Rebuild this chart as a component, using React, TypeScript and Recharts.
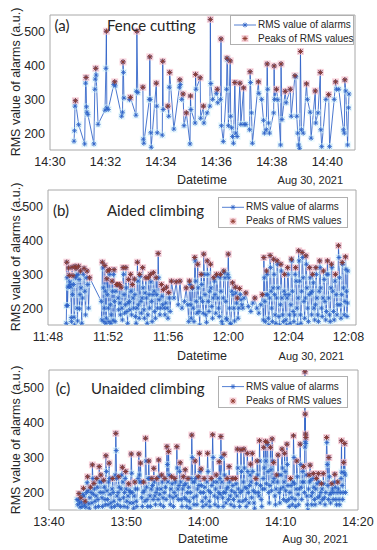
import React from 'react'
import { ComposedChart, Line, XAxis, YAxis } from 'recharts'

// seconds after 14:30:00, (a) fence cutting
const timeA = [
  52, 53, 54, 55, 62, 75, 77, 78, 79, 80,
  82, 95, 97, 98, 99, 100, 104, 119, 121, 122,
  123, 126, 138, 140, 141, 155, 157, 158, 159, 160,
  172, 174, 186, 187, 188, 190, 201, 202, 203, 215,
  216, 217, 218, 219, 230, 231, 232, 243, 244, 245,
  255, 257, 258, 259, 268, 280, 281, 282, 285, 288,
  290, 295, 303, 304, 305, 314, 315, 316, 325, 326,
  332, 333, 340, 346, 347, 348, 352, 360, 362, 363,
  369, 370, 371, 375, 382, 383, 384, 386, 390, 391,
  393, 395, 397, 400, 402, 405, 411, 413, 419, 420,
  424, 432, 433, 434, 436, 438, 451, 452, 458, 462,
  464, 468, 470, 471, 473, 475, 484, 485, 486, 490,
  493, 499, 500, 502, 509, 511, 520, 522, 530, 532,
  534, 536, 538, 540, 542, 544, 548, 555, 557, 563,
  565, 574, 575, 580, 585, 586, 588, 597, 603, 605,
  615, 618, 620, 625, 635, 637, 638, 640, 644, 646,
  647,
]
const rmsA = [
  176, 207, 280, 296, 225, 168, 348, 365, 278, 262,
  255, 168, 330, 360, 392, 372, 226, 268, 392, 502,
  275, 270, 344, 352, 340, 250, 262, 411, 380, 304,
  299, 306, 253, 324, 502, 320, 336, 182, 170, 300,
  426, 300, 201, 158, 348, 280, 201, 194, 413, 270,
  280, 250, 336, 380, 212, 336, 358, 344, 300, 316,
  222, 260, 168, 310, 270, 230, 374, 330, 364, 244,
  280, 230, 260, 280, 537, 347, 300, 318, 330, 290,
  300, 479, 222, 175, 330, 422, 418, 222, 414, 250,
  216, 190, 170, 350, 200, 190, 348, 226, 334, 226,
  226, 210, 382, 350, 260, 170, 352, 318, 300, 238,
  200, 210, 405, 330, 230, 200, 260, 399, 300, 330,
  299, 165, 405, 240, 324, 290, 330, 250, 370, 367,
  250, 200, 165, 155, 442, 210, 200, 346, 300, 262,
  185, 325, 230, 260, 380, 210, 160, 300, 314, 160,
  300, 352, 330, 330, 210, 200, 358, 325, 165, 275,
  316,
]

// seconds after 11:48:00, (b) aided climbing
const timeB = [
  73, 74, 75, 76, 78, 80, 82, 83, 85, 87,
  89, 91, 93, 94, 96, 98, 100, 102, 104, 106,
  108, 110, 112, 114, 116, 118, 120, 122, 124, 126,
  128, 130, 132, 135, 138, 141, 144, 147, 150, 153,
  156, 159, 162, 166, 213, 215, 217, 219, 221, 223,
  225, 227, 229, 231, 233, 235, 237, 239, 241, 243,
  245, 247, 249, 251, 253, 256, 258, 260, 262, 264,
  266, 268, 271, 274, 276, 278, 280, 282, 285, 287,
  289, 292, 295, 297, 300, 302, 304, 306, 309, 311,
  313, 315, 318, 320, 322, 325, 327, 330, 332, 334,
  337, 340, 342, 345, 347, 349, 352, 355, 357, 359,
  361, 364, 366, 368, 371, 373, 376, 378, 380, 383,
  385, 388, 391, 393, 396, 399, 401, 404, 406, 409,
  411, 414, 416, 419, 421, 424, 426, 429, 432, 434,
  437, 440, 442, 444, 447, 450, 453, 455, 458, 461,
  464, 467, 470, 473, 476, 479, 482, 485, 488, 493,
  503, 512, 520, 527, 535, 545, 552, 558, 562, 565,
  567, 570, 572, 575, 577, 580, 583, 586, 588, 590,
  592, 595, 598, 600, 603, 606, 609, 612, 614, 617,
  620, 622, 624, 627, 630, 633, 636, 638, 640, 643,
  646, 649, 651, 654, 657, 660, 662, 665, 667, 670,
  673, 675, 678, 681, 684, 687, 689, 691, 694, 697,
  700, 702, 704, 707, 710, 712, 715, 718, 720, 722,
  725, 728, 731, 734, 737, 739, 742, 745, 748, 750,
  753, 756, 759, 762, 765, 768, 771, 774, 778, 783,
  790, 800, 810, 818, 826, 834, 842, 850, 856, 860,
  862, 864, 866, 868, 871, 873, 875, 877, 880, 882,
  885, 887, 889, 891, 893, 896, 899, 901, 903, 905,
  907, 910, 913, 915, 917, 919, 922, 925, 928, 930,
  932, 934, 937, 940, 943, 945, 947, 950, 953, 955,
  957, 959, 962, 964, 967, 970, 972, 974, 976, 979,
  982, 985, 987, 989, 991, 994, 997, 999, 1001, 1003,
  1005, 1008, 1010, 1013, 1015, 1017, 1019, 1022, 1025, 1028,
  1030, 1032, 1034, 1037, 1040, 1043, 1045, 1047, 1050, 1053,
  1055, 1057, 1060, 1062, 1065, 1068, 1070, 1072, 1074, 1077,
  1080, 1083, 1085, 1087, 1089, 1092, 1095, 1098, 1100, 1103,
  1106, 1109, 1112, 1114, 1116, 1118, 1121, 1124, 1127, 1130,
  1132, 1134, 1137, 1140, 1143, 1146, 1148, 1151, 1154, 1157,
  1160, 1162, 1164, 1167, 1170, 1173, 1175, 1177, 1180, 1183,
  1186, 1188, 1190, 1192, 1194, 1196, 1197,
]
const rmsB = [
  155, 207, 336, 290, 208, 262, 319, 265, 297, 278,
  270, 262, 172, 160, 321, 240, 296, 270, 173, 150,
  324, 290, 318, 296, 200, 162, 300, 324, 285, 198,
  240, 310, 260, 155, 230, 300, 318, 250, 180, 290,
  310, 270, 200, 290, 220, 165, 336, 319, 260, 160,
  200, 326, 250, 155, 170, 287, 240, 310, 200, 160,
  314, 300, 210, 155, 180, 280, 250, 164, 300, 314,
  220, 160, 250, 270, 268, 270, 230, 195, 270, 215,
  180, 262, 200, 165, 320, 300, 240, 185, 210, 320,
  260, 190, 155, 215, 285, 220, 195, 300, 250, 180,
  270, 230, 200, 286, 240, 175, 155, 200, 336, 280,
  210, 170, 300, 294, 220, 185, 230, 320, 260, 195,
  170, 245, 290, 230, 155, 180, 290, 240, 200, 300,
  278, 220, 160, 240, 305, 250, 190, 170, 290, 240,
  200, 362, 290, 225, 180, 200, 270, 235, 210, 255,
  200, 180, 215, 262, 200, 170, 246, 230, 190, 280,
  230, 278, 210, 280, 200, 220, 260, 210, 160, 280,
  270, 210, 170, 262, 258, 200, 160, 350, 340, 280,
  220, 185, 330, 260, 190, 150, 230, 300, 270, 220,
  185, 360, 300, 240, 180, 158, 340, 300, 220, 190,
  250, 330, 260, 205, 170, 230, 290, 280, 240, 185,
  300, 295, 230, 200, 175, 290, 300, 250, 160, 150,
  230, 310, 305, 290, 220, 170, 165, 300, 360, 290,
  200, 155, 150, 250, 275, 240, 200, 162, 262, 245,
  215, 230, 170, 200, 258, 240, 225, 210, 200, 230,
  245, 205, 190, 215, 230, 200, 185, 210, 240, 165,
  350, 290, 220, 160, 240, 310, 300, 240, 170, 150,
  230, 356, 320, 250, 200, 160, 260, 345, 300, 240,
  180, 155, 230, 340, 330, 260, 175, 150, 210, 330,
  310, 230, 180, 160, 250, 300, 240, 165, 150, 230,
  320, 300, 240, 180, 155, 210, 345, 340, 250, 190,
  160, 180, 300, 320, 280, 200, 150, 230, 370, 340,
  280, 180, 155, 250, 365, 350, 290, 220, 170, 230,
  355, 330, 260, 200, 160, 240, 320, 290, 245, 180,
  250, 300, 275, 200, 165, 210, 320, 300, 230, 180,
  160, 250, 340, 320, 260, 200, 175, 230, 310, 285,
  220, 165, 190, 300, 340, 300, 230, 180, 160, 260,
  330, 320, 250, 190, 165, 280, 300, 240, 180, 210,
  385, 350, 290, 210, 170, 240, 335, 330, 260, 180,
  220, 352, 315, 250, 175, 215, 310,
]

// seconds after 13:40:00, (c) unaided climbing
const timeC = [
  218, 223, 228, 233, 237, 242, 247, 252, 258, 263,
  268, 272, 276, 281, 286, 291, 296, 300, 304, 308,
  313, 318, 323, 328, 333, 337, 341, 345, 349, 353,
  357, 361, 366, 371, 375, 380, 385, 390, 394, 398,
  403, 407, 411, 415, 420, 425, 430, 434, 438, 442,
  446, 450, 455, 459, 463, 467, 471, 475, 480, 485,
  490, 495, 499, 504, 509, 514, 519, 522, 525, 529,
  533, 537, 542, 546, 550, 555, 560, 565, 570, 574,
  578, 583, 587, 592, 596, 600, 604, 609, 614, 619,
  624, 629, 634, 639, 643, 647, 652, 657, 662, 667,
  672, 677, 682, 687, 692, 698, 702, 706, 711, 715,
  720, 725, 730, 735, 740, 745, 750, 754, 758, 762,
  766, 771, 775, 779, 784, 789, 794, 799, 804, 809,
  814, 818, 822, 827, 832, 837, 842, 847, 852, 856,
  860, 865, 870, 875, 880, 885, 890, 895, 900, 905,
  910, 916, 920, 924, 929, 933, 937, 942, 947, 952,
  957, 962, 967, 972, 977, 982, 987, 993, 997, 1001,
  1005, 1010, 1015, 1019, 1023, 1028, 1033, 1038, 1043, 1048,
  1053, 1058, 1062, 1066, 1070, 1075, 1080, 1085, 1090, 1095,
  1100, 1104, 1109, 1113, 1117, 1121, 1126, 1131, 1135, 1139,
  1144, 1149, 1154, 1159, 1164, 1168, 1172, 1176, 1181, 1185,
  1190, 1195, 1200, 1205, 1210, 1215, 1220, 1226, 1232, 1236,
  1240, 1245, 1250, 1255, 1260, 1265, 1271, 1275, 1279, 1284,
  1289, 1294, 1299, 1304, 1309, 1314, 1318, 1322, 1326, 1330,
  1335, 1339, 1343, 1348, 1353, 1356, 1360, 1364, 1369, 1374,
  1379, 1384, 1389, 1394, 1399, 1403, 1408, 1413, 1418, 1423,
  1428, 1433, 1438, 1443, 1448, 1453, 1458, 1463, 1467, 1471,
  1476, 1481, 1486, 1491, 1495, 1500, 1505, 1510, 1514, 1518,
  1522, 1527, 1532, 1536, 1540, 1544, 1548, 1553, 1558, 1562,
  1566, 1570, 1574, 1579, 1583, 1587, 1592, 1597, 1602, 1607,
  1612, 1617, 1621, 1626, 1630, 1635, 1639, 1643, 1648, 1653,
  1658, 1663, 1668, 1672, 1676, 1681, 1685, 1689, 1694, 1698,
  1702, 1706, 1711, 1715, 1720, 1724, 1729, 1733, 1737, 1741,
  1745, 1749, 1754, 1759, 1764, 1769, 1774, 1779, 1783, 1788,
  1793, 1798, 1803, 1810, 1814, 1818, 1822, 1826, 1830, 1834,
  1838, 1843, 1848, 1852, 1856, 1861, 1866, 1871, 1876, 1881,
  1886, 1890, 1895, 1899, 1903, 1907, 1911, 1916, 1920, 1925,
  1929, 1934, 1939, 1944, 1951, 1955, 1959, 1963, 1967, 1971,
  1976, 1980, 1984, 1988, 1989, 1990, 1991, 1993, 1994, 1995,
  1998, 2002, 2006, 2011, 2016, 2020, 2024, 2028, 2032, 2036,
  2041, 2046, 2050, 2053, 2057, 2062, 2067, 2072, 2077, 2082,
  2088, 2092, 2096, 2101, 2106, 2111, 2116, 2121, 2125, 2130,
  2134, 2139, 2144, 2150, 2156, 2158, 2162, 2166, 2170, 2174,
  2178, 2182, 2187, 2192, 2197, 2202, 2207, 2212, 2216, 2220,
  2224, 2228, 2233, 2238, 2243, 2248, 2253, 2258, 2263, 2268,
  2272, 2274, 2277, 2281, 2285, 2289, 2293, 2297, 2300, 2303,
]
const rmsC = [
  180, 165, 178, 197, 170, 158, 185, 172, 160, 195,
  212, 190, 165, 175, 158, 200, 228, 245, 205, 168,
  155, 185, 215, 200, 170, 279, 240, 195, 226, 210,
  175, 158, 190, 240, 215, 180, 160, 274, 230, 200,
  250, 230, 185, 160, 200, 235, 215, 180, 165, 305,
  260, 205, 180, 165, 230, 284, 240, 195, 170, 158,
  210, 240, 200, 175, 160, 250, 369, 320, 240, 190,
  165, 200, 245, 215, 180, 160, 210, 250, 272, 230,
  185, 160, 200, 240, 260, 210, 175, 158, 190, 225,
  205, 170, 200, 310, 255, 200, 170, 155, 190, 230,
  210, 175, 160, 210, 240, 310, 250, 230, 284, 230,
  185, 160, 200, 230, 205, 175, 355, 290, 215, 180,
  160, 240, 290, 240, 190, 160, 210, 240, 220, 180,
  269, 230, 190, 165, 200, 240, 210, 180, 293, 245,
  195, 165, 210, 250, 230, 185, 160, 200, 240, 215,
  180, 331, 280, 230, 317, 250, 190, 165, 210, 245,
  225, 185, 160, 200, 240, 230, 190, 331, 270, 210,
  180, 220, 260, 285, 230, 180, 160, 210, 245, 220,
  185, 265, 225, 180, 160, 200, 240, 215, 175, 155,
  200, 240, 364, 300, 230, 185, 165, 230, 290, 240,
  190, 165, 210, 245, 220, 312, 260, 200, 267, 220,
  175, 160, 200, 240, 215, 185, 165, 230, 312, 260,
  205, 175, 160, 200, 240, 220, 365, 300, 230, 190,
  165, 210, 250, 230, 185, 160, 200, 288, 240, 195,
  360, 300, 230, 185, 160, 200, 309, 250, 200, 170,
  210, 240, 215, 180, 274, 230, 190, 165, 205, 240,
  220, 180, 160, 200, 240, 225, 190, 324, 270, 210,
  175, 160, 200, 322, 260, 205, 175, 230, 324, 270,
  215, 180, 160, 212, 312, 260, 200, 170, 220, 250,
  281, 230, 185, 312, 260, 205, 170, 155, 200, 240,
  225, 290, 250, 200, 190, 348, 290, 220, 180, 160,
  210, 240, 329, 270, 210, 346, 290, 225, 343, 337,
  260, 200, 170, 220, 329, 265, 205, 353, 290, 230,
  286, 240, 190, 165, 210, 250, 230, 307, 250, 200,
  170, 210, 250, 324, 270, 215, 180, 230, 312, 260,
  205, 175, 338, 280, 220, 180, 160, 200, 240, 220,
  185, 165, 230, 362, 300, 225, 180, 160, 210, 290,
  245, 195, 165, 210, 338, 280, 215, 180, 230, 260,
  274, 230, 200, 545, 330, 424, 345, 367, 340, 357,
  250, 190, 165, 150, 210, 250, 230, 278, 235, 190,
  165, 200, 240, 254, 215, 180, 165, 210, 240, 225,
  185, 254, 230, 190, 170, 200, 225, 210, 180, 254,
  225, 185, 165, 200, 357, 343, 280, 220, 180, 300,
  245, 195, 170, 200, 225, 210, 180, 200, 230, 252,
  215, 180, 165, 200, 230, 210, 180, 165, 200, 240,
  348, 258, 220, 180, 200, 286, 257, 340, 250, 200,
]

const ticksA = [0, 120, 240, 360, 480, 600]
const tickLabelsA = ['14:30', '14:32', '14:34', '14:36', '14:38', '14:40']
const ticksB = [0, 240, 480, 720, 960, 1200]
const tickLabelsB = ['11:48', '11:52', '11:56', '12:00', '12:04', '12:08']
const ticksC = [0, 600, 1200, 1800, 2400]
const tickLabelsC = ['13:40', '13:50', '14:00', '14:10', '14:20']
const yTicks = [200, 300, 400, 500]

const W = 377
const FONT = '"Liberation Sans", Arial, sans-serif'
const TITLE_FONT = 'Lato, "Open Sans", sans-serif'
const AXIS = '#a8a8a8'
const INK = '#262626'
const BLUE = '#2a5fc6'
const RED = '#8e3a2e'

// peaks = local maxima of the RMS series (as findpeaks would mark them)
function rows(times: number[], rms: number[]) {
  return times.map((t, i) => {
    const v = rms[i]
    const peak = i > 0 && i < rms.length - 1 && v > rms[i - 1] && v > rms[i + 1]
    return { t, v, peak: peak ? v : null }
  })
}

function Star({ cx, cy, r, color, w }: any) {
  const d = r * 0.72
  return (
    <g stroke={color} strokeWidth={w}>
      <line x1={cx - r} y1={cy} x2={cx + r} y2={cy} />
      <line x1={cx} y1={cy - r} x2={cx} y2={cy + r} />
      <line x1={cx - d} y1={cy - d} x2={cx + d} y2={cy + d} />
      <line x1={cx - d} y1={cy + d} x2={cx + d} y2={cy - d} />
    </g>
  )
}

const haloDot = (p: any) => {
  if (p.cx == null || p.cy == null) return <g key={`h${p.index}`} />
  const pk = p.payload.peak != null
  return (
    <rect key={`h${p.index}`} x={p.cx - 3.5} y={p.cy - 3.5} width={7} height={7}
      fill={pk ? '#f7c3cf' : '#d6f4fb'} opacity={pk ? 0.7 : 0.5} />
  )
}
const blueDot = (p: any) =>
  p.cy == null ? <g key={`b${p.index}`} /> : <Star key={`b${p.index}`} cx={p.cx} cy={p.cy} r={2.5} color={BLUE} w={0.8} />
const peakDot = (p: any) =>
  p.cy == null || p.payload.peak == null
    ? <g key={`p${p.index}`} />
    : <Star key={`p${p.index}`} cx={p.cx} cy={p.cy} r={2.6} color={RED} w={0.9} />

function Txt({ x, y, children, size = 12.5, anchor = 'middle', font = FONT, rotate = false }: any) {
  const tx = anchor === 'middle' ? '-50%' : anchor === 'end' ? '-100%' : '0'
  return (
    <div style={{
      position: 'absolute', left: x, top: y, fontFamily: font, fontSize: size, lineHeight: 1,
      color: INK, whiteSpace: 'nowrap', transform: `translate(${tx},-50%)${rotate ? ' rotate(-90deg)' : ''}`,
    }}>{children}</div>
  )
}

function LegendBox({ left, top, width, height }: any) {
  return (
    <div style={{ position: 'absolute', left, top, width, height, background: '#fff', border: '1px solid #b0b0b0', boxSizing: 'border-box' }}>
      <svg width={26} height={height} style={{ position: 'absolute', left: 1, top: 0 }}>
        <line x1={2} y1={height * 0.3} x2={24} y2={height * 0.3} stroke={BLUE} strokeWidth={0.8} />
        <Star cx={13} cy={height * 0.3} r={2.5} color={BLUE} w={0.8} />
        <rect x={9.5} y={height * 0.75 - 3.5} width={7} height={7} fill="#f7c3cf" opacity={0.7} />
        <Star cx={13} cy={height * 0.75} r={2.6} color={RED} w={0.9} />
      </svg>
      <Txt x={27} y={height * 0.3} size={10} anchor="start">RMS value of alarms</Txt>
      <Txt x={27} y={height * 0.75} size={10} anchor="start">Peaks of RMS values</Txt>
    </div>
  )
}

function Panel({ top, height, left, right, times, rms, xMax, ticks, labels }: any) {
  const data = rows(times, rms)
  const xProps = { type: 'number' as const, dataKey: 't', domain: [0, xMax], ticks, allowDataOverflow: true, stroke: AXIS }
  const yProps = { type: 'number' as const, domain: [150, 550], ticks: yTicks, allowDataOverflow: true, stroke: AXIS }
  return (
    <div style={{ position: 'absolute', left: 0, top, width: W, height }}>
      <ComposedChart width={W} height={height} data={data}
        margin={{ top: 15, right: W - right, bottom: 20, left: left - 40 }}>
        <XAxis xAxisId="x" {...xProps} height={20} interval={0} tickLine={false} tickSize={3} tickMargin={4}
          tickFormatter={(t: number) => labels[ticks.indexOf(t)] ?? ''}
          tick={{ fill: INK, fontSize: 12.5, fontFamily: FONT }} />
        <XAxis xAxisId="xm" {...xProps} mirror tick={false} axisLine={false} tickSize={3} />
        <XAxis xAxisId="xt" {...xProps} orientation="top" mirror tick={false} tickSize={3} />
        <YAxis yAxisId="y" {...yProps} width={40} interval={0} tickLine={false} tickSize={0} tickMargin={5}
          tick={{ fill: INK, fontSize: 12.5, fontFamily: FONT }} />
        <YAxis yAxisId="ym" {...yProps} mirror tick={false} axisLine={false} tickSize={3} />
        <YAxis yAxisId="yr" {...yProps} orientation="right" mirror tick={false} tickSize={3} />
        <Line xAxisId="x" yAxisId="y" dataKey="v" stroke="none" dot={haloDot} activeDot={false} isAnimationActive={false} />
        <Line xAxisId="x" yAxisId="y" dataKey="v" stroke={BLUE} strokeWidth={0.85} dot={blueDot} activeDot={false} isAnimationActive={false} />
        <Line xAxisId="x" yAxisId="y" dataKey="peak" stroke="none" dot={peakDot} activeDot={false} isAnimationActive={false} />
      </ComposedChart>
    </div>
  )
}

export default function App() {
  return (
    <div style={{ position: 'absolute', left: 0, top: 0, width: W, height: 550, background: '#fff', overflow: 'hidden' }}>
      <Panel top={0} height={190} left={50} right={355} times={timeA} rms={rmsA} xMax={660} ticks={ticksA} labels={tickLabelsA} />
      <Panel top={175} height={190} left={48} right={356} times={timeB} rms={rmsB} xMax={1230} ticks={ticksB} labels={tickLabelsB} />
      <Panel top={355} height={195} left={49} right={358} times={timeC} rms={rmsC} xMax={2400} ticks={ticksC} labels={tickLabelsC} />

      <Txt x={16} y={82} rotate>RMS value of alarms (a.u.)</Txt>
      <Txt x={16} y={257} rotate>RMS value of alarms (a.u.)</Txt>
      <Txt x={16} y={440} rotate>RMS value of alarms (a.u.)</Txt>

      <Txt x={62} y={25} size={15} font={TITLE_FONT}>(a)</Txt>
      <Txt x={107} y={25} size={15} font={TITLE_FONT} anchor="start">Fence cutting</Txt>
      <Txt x={61} y={210} size={15} font={TITLE_FONT}>(b)</Txt>
      <Txt x={107} y={210} size={15} font={TITLE_FONT} anchor="start">Aided climbing</Txt>
      <Txt x={63} y={388} size={15} font={TITLE_FONT}>(c)</Txt>
      <Txt x={91} y={388} size={15} font={TITLE_FONT} anchor="start">Unaided climbing</Txt>

      <LegendBox left={230} top={15} width={124} height={30} />
      <LegendBox left={218} top={197} width={130} height={31} />
      <LegendBox left={218} top={376} width={130} height={32} />

      <Txt x={202} y={180}>Datetime</Txt>
      <Txt x={343} y={180} size={11} anchor="end">Aug 30, 2021</Txt>
      <Txt x={202} y={356}>Datetime</Txt>
      <Txt x={344} y={356} size={11} anchor="end">Aug 30, 2021</Txt>
      <Txt x={203} y={539}>Datetime</Txt>
      <Txt x={348} y={539} size={11} anchor="end">Aug 30, 2021</Txt>
    </div>
  )
}
